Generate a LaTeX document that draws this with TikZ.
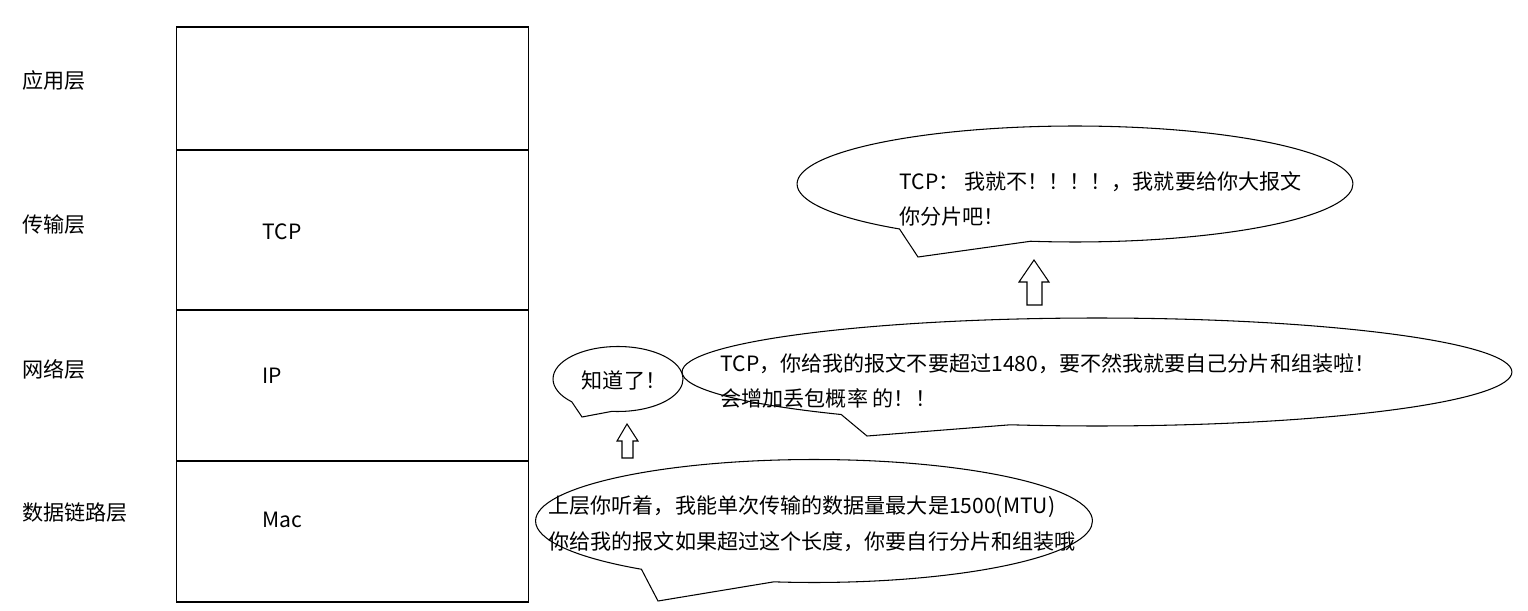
\documentclass[tikz,border=0pt]{standalone}
\usepackage{fontspec}
\newfontfamily\cjk{Noto Sans CJK SC}
\usetikzlibrary{shapes.callouts}
\begin{document}
\begin{tikzpicture}[x=0.02cm,y=-0.02cm,line width=0.6pt,
  every node/.style={font=\cjk\fontsize{12}{20.3}\selectfont},
  layer/.style={draw,minimum width=7.06cm,inner sep=0pt},
  words/.style={inner sep=0pt,anchor=west,align=left},
  bubble/.style={ellipse callout,draw,inner sep=0pt}]
\useasboundingbox (0,0) rectangle (1528,611);
\node[layer,minimum height=2.46cm] (app) at (352.5,88.5) {};
\node[layer,minimum height=3.2cm] (trans) at (352.5,230) {};
\node[layer,minimum height=3.02cm] (net) at (352.5,385.5) {};
\node[layer,minimum height=2.82cm] (link) at (352.5,531.5) {};
\node[words] (applbl) at (22,81) {应用层};
\node[words] (translbl) at (22,225) {传输层};
\node[words] (netlbl) at (22,369) {网络层};
\node[words] (linklbl) at (22,513) {数据链路层};
\node[words] (tcp) at (262,232) {TCP};
\node[words] (ip) at (262,376) {IP};
\node[words] (mac) at (262,520) {Mac};
\node[bubble,minimum width=11.12cm,minimum height=2.32cm,
  callout absolute pointer={(918,257)},callout pointer arc=30] (tcpsay) at (1075,184) {};
\node[bubble,minimum width=16.6cm,minimum height=2.16cm,
  callout absolute pointer={(867,436)},callout pointer arc=26] (ipsay) at (1097,372) {};
\node[bubble,minimum width=2.6cm,minimum height=1.3cm,
  callout absolute pointer={(582,417)},callout pointer arc=40] (tcpok) at (618,379) {};
\node[bubble,minimum width=11.14cm,minimum height=2.46cm,
  callout absolute pointer={(658,601)},callout pointer arc=30] (macsay) at (814,521) {};
\node[words] (tcpsaytxt) at (899,199) {TCP： 我就不！！！！，我就要给你大报文\\你分片吧！};
\node[words] (ipsaytxt) at (720,381) {TCP，你给我的报文不要超过1480，要不然我就要自己分片和组装啦！\\会增加丢包概率 的！！};
\node[inner sep=0pt] (tcpoktxt) at (624,380) {知道了！};
\node[words] (macsaytxt) at (548,524) {上层你听着，我能单次传输的数据量最大是1500(MTU)\\你给我的报文如果超过这个长度，你要自行分片和组装哦};
\draw (1034,260) -- (1049,282) -- (1042,282) -- (1042,305) -- (1027,305) -- (1027,282) -- (1019,282) -- cycle;
\draw (627,424) -- (638,441) -- (633,441) -- (633,458) -- (622,458) -- (622,441) -- (617,441) -- cycle;
\end{tikzpicture}
\end{document}
